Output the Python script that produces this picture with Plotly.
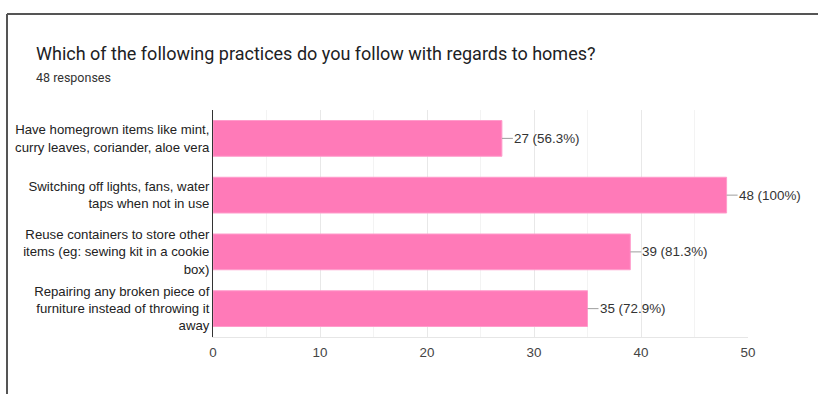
import plotly.graph_objects as go

categories = [
    "Have homegrown items like mint,<br>curry leaves, coriander, aloe vera",
    "Switching off lights, fans, water<br>taps when not in use",
    "Reuse containers to store other<br>items (eg: sewing kit in a cookie<br>box)",
    "Repairing any broken piece of<br>furniture instead of throwing it<br>away",
]
counts = [27, 48, 39, 35]
percents = ["56.3%", "100%", "81.3%", "72.9%"]
x_ticks = [0, 10, 20, 30, 40, 50]

W, H = 818, 394
L, R, T, B = 213, 70, 110, 57
pw, ph = W - L - R, H - T - B

def px_x(px):
    return (px - L) / pw

def px_y(py):
    return (H - B - py) / ph

fig = go.Figure()
fig.add_trace(go.Bar(
    x=counts, y=categories, orientation="h",
    marker=dict(color="#ff7ab8", line=dict(color="#ff9ccb", width=1)),
    width=0.63, hoverinfo="skip",
))

for c, v, p in zip(categories, counts, percents):
    fig.add_annotation(
        x=v, y=c, xref="x", yref="y",
        text=f"{v} ({p})", showarrow=True, arrowhead=0, arrowwidth=1,
        arrowcolor="#9e9e9e", ax=11, ay=0, axref="pixel", ayref="pixel",
        xanchor="left", yanchor="middle", standoff=0, startstandoff=0,
        borderpad=0, font=dict(family="Liberation Sans, Arial", size=13.4, color="#333333"),
    )

fig.add_annotation(
    x=px_x(34), y=px_y(53), xref="paper", yref="paper", xanchor="left", yanchor="middle",
    text="Which of the following practices do you follow with regards to homes?",
    showarrow=False, font=dict(family="Roboto", size=18, color="#202124"),
)
fig.add_annotation(
    x=px_x(34), y=px_y(77), xref="paper", yref="paper", xanchor="left", yanchor="middle",
    text="48 responses", showarrow=False,
    font=dict(family="Roboto", size=12.5, color="#333333"),
)

# card frame
fig.add_shape(type="line", xref="paper", yref="paper",
              x0=px_x(7), x1=px_x(830), y0=px_y(14), y1=px_y(14),
              line=dict(color="#555555", width=2))
fig.add_shape(type="line", xref="paper", yref="paper",
              x0=px_x(7), x1=px_x(7), y0=px_y(14), y1=px_y(400),
              line=dict(color="#555555", width=2))

fig.update_layout(
    width=W, height=H, margin=dict(l=L, r=R, t=T, b=B, autoexpand=False),
    paper_bgcolor="white", plot_bgcolor="white", showlegend=False,
    font=dict(family="Liberation Sans, Arial", size=13.2, color="#222222"),
    bargap=0.37,
)
fig.update_xaxes(
    range=[0, 50], tickvals=x_ticks, ticktext=[str(t) for t in x_ticks],
    showgrid=True, gridcolor="#e8e8e8", gridwidth=1,
    minor=dict(dtick=5, showgrid=True, gridcolor="#f3f3f3", gridwidth=1),
    zeroline=False, showline=True, linecolor="#e6e6e6", linewidth=1,
    tickfont=dict(family="Liberation Sans, Arial", size=13.4, color="#444444"),
    ticks="", ticklabelstandoff=3, fixedrange=True, automargin=False,
)
fig.update_yaxes(
    autorange="reversed", showline=True, linecolor="#333333", linewidth=1,
    showgrid=False, ticks="", ticklabelstandoff=0, automargin=False,
    tickfont=dict(family="Liberation Sans, Arial", size=13.2, color="#222222"),
    fixedrange=True,
)

fig.write_html("out.html", config={"displayModeBar": False})
